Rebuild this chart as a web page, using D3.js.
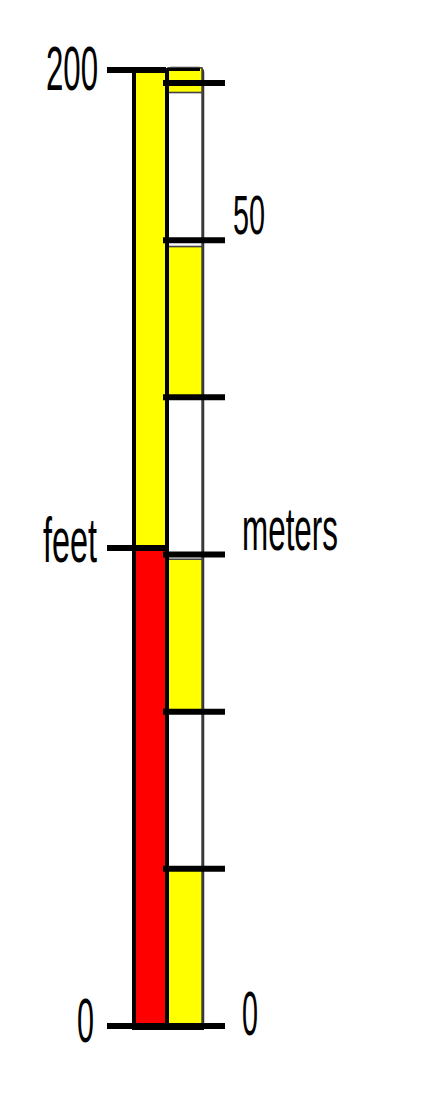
<!DOCTYPE html>
<html>
<head>
<meta charset="utf-8">
<script src="https://cdn.jsdelivr.net/npm/d3@7"></script>
<style>
  body { margin: 0; background: #fff; }
  svg text { font-family: "Liberation Sans", Arial, sans-serif; fill: #000; }
</style>
</head>
<body>
<div class="chart"></div>
<script>
// feet scale (left bar)
const feetBands = [
    { from: 0, to: 100, color: "#ff0000" },
    { from: 100, to: 200, color: "#ffff00" }
];
const feetTicks = [0, 100, 200];
const feetLabels = [
    { value: 0, text: "0", dy: 16, right: 94, width: 17 },
    { value: 100, text: "feet", dy: 14, right: 97, width: 54 },
    { value: 200, text: "200", dy: 20, right: 98, width: 52 }
];

// meter scale (right bar), boundaries
const meterBands = [
    { from: 0, to: 10, color: "#ffff00" },
    { from: 10, to: 20, color: "#ffffff" },
    { from: 20, to: 29.7, color: "#ffff00" },
    { from: 29.7, to: 40, color: "#ffffff" },
    { from: 40, to: 49.6, color: "#ffff00" },
    { from: 49.6, to: 59.4, color: "#ffffff" },
    { from: 59.4, to: 60.96, color: "#ffff00" }
];
const meterTicks = [0, 10, 20, 30, 40, 50, 60];
const meterLabels = [
    { value: 0, text: "0", dy: 9, left: 242, width: 16, size: 63 },
    { value: 30, text: "meters", dy: -5, left: 242, width: 96, size: 61 },
    { value: 50, text: "50", dy: -6, left: 233, width: 32, size: 55 }
];

function init() {
    let width = 447, height = 1101;

    let yFt = d3.scaleLinear()
        .domain([0, 200])
        .range([1026, 70]);

    let yM = d3.scaleLinear()
        .domain([0, 60])
        .range([1026, 83]);

    let svg = d3.select(".chart").append("svg")
        .attr("width", width)
        .attr("height", height);

    // left bar
    let left = svg.append("g").attr("class", "feet-bar");
    left.selectAll("rect.band")
        .data(feetBands)
        .enter().append("rect")
        .attr("class", "band")
        .attr("x", 134)
        .attr("width", 33)
        .attr("y", d => yFt(d.to))
        .attr("height", d => yFt(d.from) - yFt(d.to))
        .attr("fill", d => d.color);

    left.append("rect")
        .attr("x", 134)
        .attr("width", 33)
        .attr("y", yFt(200))
        .attr("height", yFt(0) - yFt(200))
        .attr("fill", "none")
        .attr("stroke", "#000")
        .attr("stroke-width", 4);

    // right bar
    let right = svg.append("g").attr("class", "meter-bar");
    right.append("rect")
        .attr("x", 167)
        .attr("width", 36)
        .attr("y", yM(60.96))
        .attr("height", yM(0) - yM(60.96))
        .attr("rx", 4)
        .attr("fill", "#fff")
        .attr("stroke", "#333")
        .attr("stroke-width", 2.5);

    right.selectAll("rect.band")
        .data(meterBands)
        .enter().append("rect")
        .attr("class", "band")
        .attr("x", 168)
        .attr("width", 34)
        .attr("y", d => yM(d.to))
        .attr("height", d => yM(d.from) - yM(d.to))
        .attr("fill", d => d.color)
        .attr("stroke", "#444")
        .attr("stroke-width", 1.5);

    // top edge of meter bar
    right.append("line")
        .attr("x1", 167).attr("x2", 200)
        .attr("y1", yM(60.96) + 1.5).attr("y2", yM(60.96) + 1.5)
        .attr("stroke", "#000")
        .attr("stroke-width", 3);

    // divider between bars
    svg.append("line")
        .attr("x1", 167).attr("x2", 167)
        .attr("y1", yFt(200)).attr("y2", yFt(0))
        .attr("stroke", "#000")
        .attr("stroke-width", 4);

    // bottom edge
    svg.append("line")
        .attr("x1", 132).attr("x2", 204)
        .attr("y1", yFt(0) + 1).attr("y2", yFt(0) + 1)
        .attr("stroke", "#000")
        .attr("stroke-width", 6);

    // ticks
    svg.append("g").attr("class", "feet-ticks")
        .selectAll("line")
        .data(feetTicks)
        .enter().append("line")
        .attr("x1", 107).attr("x2", 166)
        .attr("y1", d => yFt(d)).attr("y2", d => yFt(d))
        .attr("stroke", "#000")
        .attr("stroke-width", 6);

    svg.append("g").attr("class", "meter-ticks")
        .selectAll("line")
        .data(meterTicks)
        .enter().append("line")
        .attr("x1", 163).attr("x2", 225)
        .attr("y1", d => yM(d)).attr("y2", d => yM(d))
        .attr("stroke", "#000")
        .attr("stroke-width", 6);

    // labels
    svg.append("g").attr("class", "feet-labels")
        .selectAll("text")
        .data(feetLabels)
        .enter().append("text")
        .attr("x", d => d.right - d.width)
        .attr("y", d => yFt(d.value) + d.dy)
        .attr("font-size", 63)
        .attr("textLength", d => d.width)
        .attr("lengthAdjust", "spacingAndGlyphs")
        .text(d => d.text);

    svg.append("g").attr("class", "meter-labels")
        .selectAll("text")
        .data(meterLabels)
        .enter().append("text")
        .attr("x", d => d.left)
        .attr("y", d => yM(d.value) + d.dy)
        .attr("font-size", d => d.size)
        .attr("textLength", d => d.width)
        .attr("lengthAdjust", "spacingAndGlyphs")
        .text(d => d.text);
}

init();
</script>
</body>
</html>
